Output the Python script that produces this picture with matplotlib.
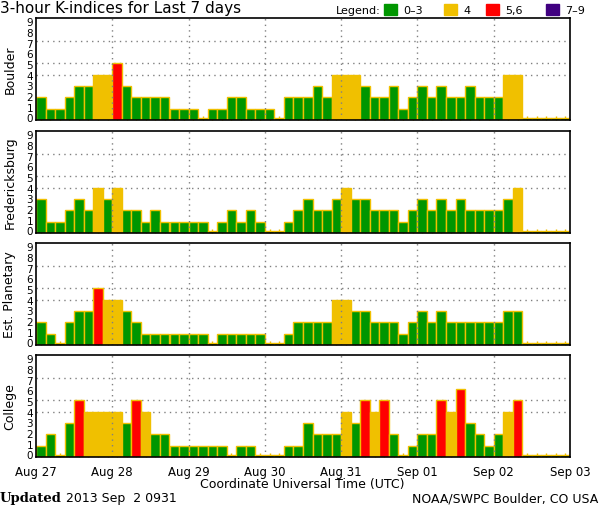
import numpy as np
import matplotlib
matplotlib.use("Agg")
import matplotlib.pyplot as plt
from matplotlib.patches import Rectangle

# K-index values, 8 per day, Aug 27 .. Sep 02 (UTC)
stations = ["Boulder", "Fredericksburg", "Est. Planetary", "College"]
boulder = [2,1,1,2,3,3,4,4, 5,3,2,2,2,2,1,1, 1,0,1,1,2,2,1,1, 1,0,2,2,2,3,2,4,
           4,4,3,2,2,3,1,2, 3,2,3,2,2,3,2,2, 2,4,4,0,0,0,0,0]
fredericksburg = [3,1,1,2,3,2,4,3, 4,2,2,1,2,1,1,1, 1,1,0,1,2,1,2,1, 0,0,1,2,3,2,2,3,
                  4,3,3,2,2,2,1,2, 3,2,3,2,3,2,2,2, 2,3,4,0,0,0,0,0]
planetary = [2,1,0,2,3,3,5,4, 4,3,2,1,1,1,1,1, 1,1,0,1,1,1,1,1, 0,0,1,2,2,2,2,4,
             4,3,3,2,2,2,1,2, 3,2,3,2,2,2,2,2, 2,3,3,0,0,0,0,0]
college = [1,2,0,3,5,4,4,4, 4,3,5,4,2,2,1,1, 1,1,1,1,0,1,1,0, 0,0,1,1,3,2,2,2,
           4,3,5,4,5,2,0,1, 2,2,5,4,6,3,2,1, 2,4,5,0,0,0,0,0]
day_labels = ["Aug 27", "Aug 28", "Aug 29", "Aug 30", "Aug 31", "Sep 01", "Sep 02", "Sep 03"]
legend_labels = ["0\u20133", "4", "5,6", "7\u20139"]

GREEN = "#009600"
YELLOW = "#F0C000"
RED = "#FF0000"
PURPLE = "#400080"
GRID = "#808080"


def kcolor(k):
    if k <= 3:
        return GREEN
    if k == 4:
        return YELLOW
    if k <= 6:
        return RED
    return PURPLE


W, H = 600, 510
fig = plt.figure(figsize=(W / 100, H / 100), dpi=100)

panel_tops = [19, 132, 244, 356]
panel_h = 102
left, right = 36, 570

for i, (name, vals) in enumerate(zip(stations, [boulder, fredericksburg, planetary, college])):
    top = panel_tops[i]
    ax = fig.add_axes([left / W, 1 - (top + panel_h) / H, (right - left) / W, panel_h / H])
    vals = np.array(vals)
    x = np.arange(len(vals)) / 8
    # zero values still get a thin sliver like the original
    heights = np.where(vals == 0, 0.15, vals)
    ax.bar(x, heights, width=1 / 8, align="edge", color=[kcolor(v) for v in vals],
           edgecolor=YELLOW, linewidth=1, zorder=2)
    ax.set_xlim(0, 7)
    ax.set_ylim(0, 9)
    for y in (4, 5, 7):
        ax.axhline(y, color=GRID, ls=(0, (1, 3)), lw=1, zorder=1)
    for d in range(1, 7):
        ax.axvline(d, color=GRID, ls=(0, (1, 3)), lw=1, zorder=3)

    # the original squeezes its 0-9 labels a little inside the frame
    ax.set_yticks(np.linspace(0.25, 8.7, 10))
    ax.set_yticklabels([str(v) for v in range(10)], fontsize=7.5)
    ax.tick_params(axis="y", length=0, pad=2)
    ax.set_xticks(range(8))
    if i == 3:
        ax.set_xticklabels(day_labels, fontsize=8.5)
    else:
        ax.set_xticklabels([])
    ax.tick_params(axis="x", which="major", length=0, pad=6)
    ax.set_xticks(x + 1 / 16, minor=True)
    ax.tick_params(axis="x", which="minor", direction="in", length=3, width=1, color=YELLOW)
    for s in ax.spines.values():
        s.set_linewidth(1.2)
        s.set_zorder(4)
    ax.spines["right"].set_linestyle((0, (2, 1)))

    fig.text(10 / W, 1 - (top + panel_h / 2) / H, name, rotation=90,
             ha="center", va="center", fontsize=9)

fig.text(0, 1 - 9 / H, "3-hour K-indices for Last 7 days", ha="left", va="center", fontsize=11)

# legend row
fig.text(336 / W, 1 - 11 / H, "Legend:", ha="left", va="center", fontsize=8)
leg_x = [384, 444, 486, 546]
for lx, col, lab in zip(leg_x, [GREEN, YELLOW, RED, PURPLE], legend_labels):
    fig.patches.append(Rectangle((lx / W, 1 - 16 / H), 13 / W, 11 / H,
                                 transform=fig.transFigure, color=col))
    fig.text((lx + 19) / W, 1 - 11 / H, lab, ha="left", va="center", fontsize=8)

fig.text(302 / W, 1 - 485 / H, "Coordinate Universal Time (UTC)", ha="center", va="center", fontsize=9)
fig.text(0, 1 - 499 / H, "Updated", ha="left", va="center", fontsize=9.5,
         family="DejaVu Serif", weight="bold")
fig.text(66 / W, 1 - 499 / H, "2013 Sep  2 0931", ha="left", va="center", fontsize=9)
fig.text(598 / W, 1 - 499 / H, "NOAA/SWPC Boulder, CO USA", ha="right", va="center", fontsize=9)

fig.savefig("out.png", dpi=100)
